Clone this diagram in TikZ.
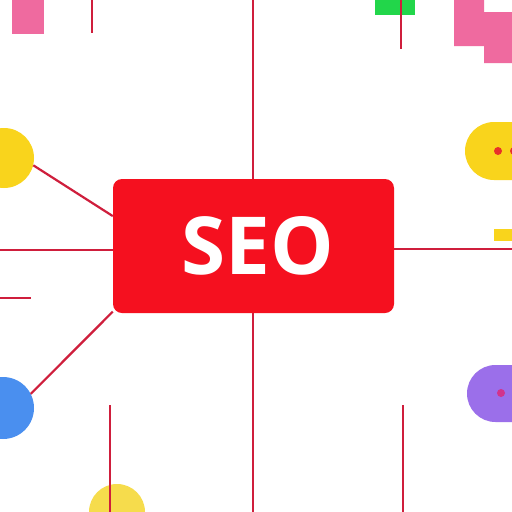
\documentclass[tikz,border=0pt]{standalone}
\usepackage{fontspec}
\newfontfamily\seofont{Open Sans}
\pgfdeclarelayer{back}
\pgfsetlayers{back,main}
\definecolor{seored}{HTML}{F5101F}
\definecolor{linered}{HTML}{CF1E3C}
\definecolor{sunyellow}{HTML}{F9D41C}
\definecolor{paleyellow}{HTML}{F6DC4C}
\definecolor{skyblue}{HTML}{4A8FEF}
\definecolor{lavender}{HTML}{9B6FEA}
\definecolor{rosepink}{HTML}{EF6A9F}
\definecolor{leafgreen}{HTML}{22D64A}
\definecolor{dotred}{HTML}{E8302A}
\definecolor{dotpink}{HTML}{D2338C}
\begin{document}
\begin{tikzpicture}[x=1pt,y=-1pt,
  link/.style={draw=linered, line width=2.2pt},
  seobox/.style={rectangle, rounded corners=9pt, fill=seored, text=white,
    minimum width=281pt, minimum height=134pt, inner sep=0pt,
    font=\seofont\bfseries\fontsize{80}{80}\selectfont},
  blob/.style={circle, inner sep=0pt, draw=none},
  pill/.style={rectangle, rounded corners=28.5pt, inner sep=0pt, minimum width=84pt, minimum height=57pt, draw=none},
  dot/.style={circle, inner sep=0pt, minimum size=8pt, draw=none}]
\useasboundingbox (0,0) rectangle (512,512);
\clip (0,0) rectangle (512,512);
\fill[white] (0,0) rectangle (512,512);

% decorative blocks
\fill[rosepink] (12,0) rectangle (44,34);
\fill[leafgreen] (375,0) rectangle (415,15);
\fill[rosepink] (454,0) -- (484,0) -- (484,12) -- (512,12) -- (512,63) -- (484,63) -- (484,46) -- (454,46) -- cycle;
\fill[sunyellow] (494,229) rectangle (512,241);

% nodes
\node[seobox] (seo) at (253.5,246) {\hspace*{8pt}SEO};
\node[blob, fill=sunyellow, minimum size=60pt] (ylc) at (4,158) {};
\node[blob, fill=skyblue, minimum size=62pt] (bluec) at (3,408) {};
\node[blob, fill=paleyellow, minimum size=56pt] (ybot) at (117,512) {};
\node[pill, fill=sunyellow, minimum height=58pt, rounded corners=29pt] (ypill) at (507,151) {};
\node[pill, fill=lavender] (ppill) at (509,393.5) {};
\node[dot, fill=dotred] (d1) at (498,151) {};
\node[dot, fill=dotred] (d2) at (514,151) {};
\node[dot, fill=dotpink] (d3) at (501,393) {};

% free ends
\coordinate (tend) at (253,0);
\coordinate (bend) at (253,512);
\coordinate (lend) at (0,250);
\coordinate (rend) at (512,249);
\coordinate (s1) at (0,298);
\coordinate (s2) at (31,298);
\coordinate (tl1) at (92,0);
\coordinate (tl2) at (92,33);
\coordinate (tr1) at (401,0);
\coordinate (tr2) at (401,49);
\coordinate (bl1) at (110,405);
\coordinate (bl2) at (110,512);
\coordinate (br1) at (403,405);
\coordinate (br2) at (403,512);

\begin{pgfonlayer}{back}
\draw[link] (seo.13) -- ([xshift=-26pt]ypill.center);
\draw[link] (seo.342) -- (ppill.center);
\end{pgfonlayer}

\draw[link] (seo.north -| tend) -- (tend);
\draw[link] (seo.south -| bend) -- (bend);
\draw[link] (seo.west |- lend) -- (lend);
\draw[link] (seo.east |- rend) -- (rend);
\draw[link] (seo.168) -- (ylc.-14);
\draw[link] (seo.205) -- (bluec.27);
\draw[link] (s1) -- (s2);
\draw[link, line width=2.6pt] (tl1) -- (tl2);
\draw[link] (tr1) -- (tr2);
\draw[link] (bl1) -- (bl2);
\draw[link] (br1) -- (br2);
\end{tikzpicture}
\end{document}
